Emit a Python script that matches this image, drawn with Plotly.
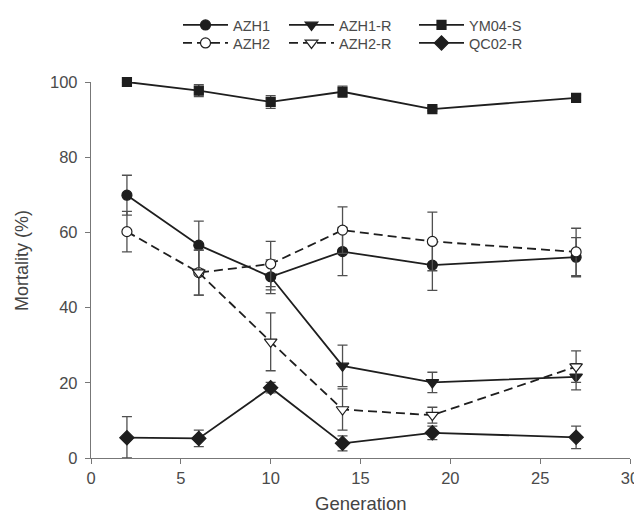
import plotly.graph_objects as go

generation = [2, 6, 10, 14, 19, 27]

azh1 = [69.9, 56.6, 48.2, 54.9, 51.3, 53.4]
azh1_err = [5.3, 6.4, 4.5, 6.4, 6.7, 5.2]

azh2 = [60.2, 49.3, 51.6, 60.6, 57.6, 54.8]
azh2_err = [5.4, 6.0, 6.0, 6.2, 7.8, 6.3]

azh1r_gen = [10, 14, 19, 27]
azh1r = [48.2, 24.5, 20.1, 21.6]
azh1r_err = [3.5, 5.5, 2.7, 3.5]

azh2r_gen = [6, 10, 14, 19, 27]
azh2r = [49.3, 30.9, 12.9, 11.4, 24.3]
azh2r_err = [6.0, 7.7, 5.5, 2.1, 4.2]

ym04 = [100.0, 97.7, 94.7, 97.4, 92.8, 95.8]
ym04_err = [0.0, 1.6, 1.7, 1.5, 0.5, 0.8]

qc02 = [5.4, 5.2, 18.7, 3.9, 6.7, 5.5]
qc02_err = [5.6, 2.2, 1.4, 2.0, 1.8, 3.0]

x_ticks = [0, 5, 10, 15, 20, 25, 30]
y_ticks = [0, 20, 40, 60, 80, 100]

LINE = "#1e1e1e"
ERR = "#505050"
FAM = "Liberation Sans, Arial, sans-serif"

SIZES = {"circle": 10, "square": 9, "triangle-down": 11, "diamond": 11}

# page body has an 8px margin; the figure is placed at (8, 8)
W, H = 634, 509


def trace(name, x, y, err, symbol, dash, legend, filled=True, errminus=None):
    e = dict(type="data", array=err, color=ERR, thickness=1.3, width=5, visible=True)
    if errminus is not None:
        e["symmetric"] = False
        e["arrayminus"] = errminus
    return go.Scatter(
        x=x, y=y, name=name, mode="lines+markers", legend=legend,
        line=dict(color=LINE, width=1.8, dash=dash),
        marker=dict(symbol=symbol, size=SIZES[symbol],
                    color=LINE if filled else "white",
                    line=dict(color=LINE, width=1.2)),
        error_y=e, cliponaxis=False,
    )


qc02_minus = [min(v, e) for v, e in zip(qc02, qc02_err)]

fig = go.Figure()
fig.add_trace(trace("AZH1", generation, azh1, azh1_err, "circle", "solid", "legend"))
fig.add_trace(trace("AZH1-R", azh1r_gen, azh1r, azh1r_err, "triangle-down", "solid", "legend2"))
fig.add_trace(trace("YM04-S", generation, ym04, ym04_err, "square", "solid", "legend3"))
fig.add_trace(trace("AZH2", generation, azh2, azh2_err, "circle", "9px,5px", "legend4", filled=False))
fig.add_trace(trace("AZH2-R", azh2r_gen, azh2r, azh2r_err, "triangle-down", "9px,5px", "legend5", filled=False))
fig.add_trace(trace("QC02-R", generation, qc02, qc02_err, "diamond", "solid", "legend6", errminus=qc02_minus))

tick_font = dict(family=FAM, size=16.5, color="#4a4a4a")
leg_font = dict(family=FAM, size=14.5, color="#4a4a4a")


def leg(px, py):
    return dict(orientation="h", xref="container", yref="container", xanchor="left", yanchor="middle",
                x=px / W, y=1 - py / H, font=leg_font, bgcolor="rgba(0,0,0,0)", itemwidth=45)


col_x = [170, 276, 406]
row_y = [17, 35]

fig.update_layout(
    width=W, height=H,
    margin=dict(l=83, r=12, t=74, b=59),
    paper_bgcolor="white", plot_bgcolor="white",
    font=tick_font,
    showlegend=True,
    legend=leg(col_x[0], row_y[0]),
    legend2=leg(col_x[1], row_y[0]),
    legend3=leg(col_x[2], row_y[0]),
    legend4=leg(col_x[0], row_y[1]),
    legend5=leg(col_x[1], row_y[1]),
    legend6=leg(col_x[2], row_y[1]),
    xaxis=dict(range=[0, 30], tickvals=x_ticks, showgrid=False, zeroline=False, automargin=False,
               showline=True, linecolor="#777777", linewidth=1.3, ticks="outside", ticklen=5,
               tickcolor="#777777", tickfont=tick_font, ticklabeloverflow="allow"),
    yaxis=dict(range=[0, 100], tickvals=y_ticks, showgrid=False, zeroline=False, automargin=False,
               showline=True, linecolor="#777777", linewidth=1.3, ticks="outside", ticklen=5,
               tickcolor="#777777", tickfont=tick_font, ticklabelstandoff=4),
    annotations=[
        dict(text="Generation", xref="paper", yref="paper", x=0.5, y=-(491 - 458) / 376,
             yanchor="top", xanchor="center", showarrow=False,
             font=dict(family=FAM, size=18.5, color="#444444")),
        dict(text="Mortality (%)", xref="paper", yref="paper", x=-(91 - 22) / 539, y=(458 - 261) / 376,
             yanchor="middle", xanchor="center", textangle=-90, showarrow=False,
             font=dict(family=FAM, size=18, color="#444444")),
    ],
)

fig.write_html("out.html")
